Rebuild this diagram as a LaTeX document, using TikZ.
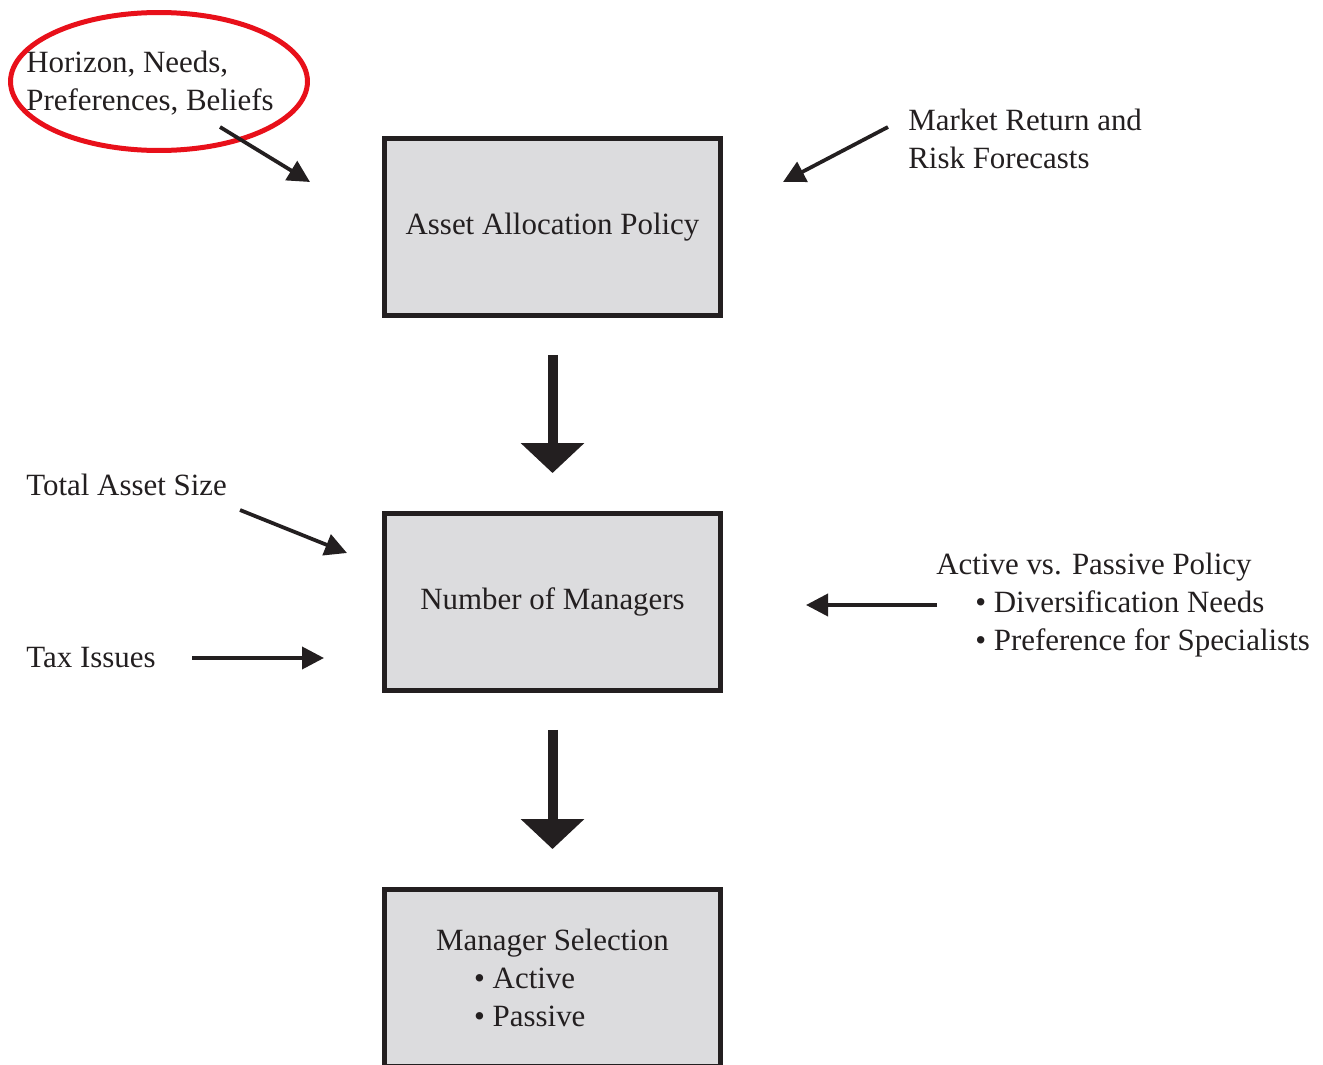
\documentclass[tikz,border=0pt]{standalone}
\usepackage{fontspec}
\setmainfont{Liberation Serif}
\usetikzlibrary{arrows.meta, positioning}
\definecolor{boxFill}{HTML}{DCDCDE}
\definecolor{inkColor}{HTML}{231F20}
\definecolor{markRed}{HTML}{E8101A}

\begin{document}
\begin{tikzpicture}[x=0.02cm, y=-0.02cm,
    every node/.style={font=\fontsize{17.6}{21.6}\selectfont, text=inkColor},
    stagebox/.style={draw=inkColor, line width=0.1cm, fill=boxFill, minimum width=6.72cm, minimum height=3.54cm, align=left},
    note/.style={inner sep=0pt, align=left},
    feedarrow/.style={line width=0.075cm, draw=inkColor, -{Triangle[length=0.44cm, width=0.44cm]}},
    bigarrow/.style={line width=0.2cm, draw=inkColor, -{Triangle[length=0.6cm, width=1.24cm]}}]
    \useasboundingbox (0,0) rectangle (1323,1065);

    \node[stagebox] (alloc) at (552.5,227) {Asset Allocation Policy};
    \node[stagebox] (nmgr) at (552.5,602) {Number of Managers};
    \node[stagebox] (msel) at (552.5,978) {Manager Selection\\\hspace*{0.76cm}• Active\\\hspace*{0.76cm}• Passive};

    \draw[bigarrow] ([yshift=-0.74cm]alloc.south) -- ([yshift=0.76cm]nmgr.north);
    \draw[bigarrow] ([yshift=-0.74cm]nmgr.south) -- ([yshift=0.76cm]msel.north);

    \node[note, anchor=base west] (horizon) at (26,110) {Horizon, Needs,\\Preferences, Beliefs};
    \draw[markRed, line width=0.1cm] (159,81.5) ellipse [x radius=2.97cm, y radius=1.38cm];
    \node[note, anchor=base west] (market) at (908,168) {Market Return and\\Risk Forecasts};
    \node[note, anchor=base west] (totsize) at (26,495) {Total Asset Size};
    \node[note, anchor=base west] (tax) at (26,667) {Tax Issues};
    \node[note, anchor=base west] (activepol) at (936,650) {Active vs. Passive Policy\\\hspace*{0.78cm}• Diversification Needs\\\hspace*{0.78cm}• Preference for Specialists};

    \coordinate (horizon-tail) at (220,127);
    \coordinate (horizon-head) at (310,182);
    \coordinate (market-tail) at (888,127);
    \coordinate (market-head) at (783,182);
    \coordinate (totsize-tail) at (240,510);
    \coordinate (totsize-head) at (347,553);
    \coordinate (tax-tail) at (192,658);
    \coordinate (tax-head) at (324,658);
    \coordinate (activepol-tail) at (937,605);
    \coordinate (activepol-head) at (806,605);

    \draw[feedarrow] (horizon-tail) -- (horizon-head);
    \draw[feedarrow] (market-tail) -- (market-head);
    \draw[feedarrow] (totsize-tail) -- (totsize-head);
    \draw[feedarrow] (tax-tail) -- (tax-head);
    \draw[feedarrow] (activepol-tail) -- (activepol-head);
\end{tikzpicture}
\end{document}
